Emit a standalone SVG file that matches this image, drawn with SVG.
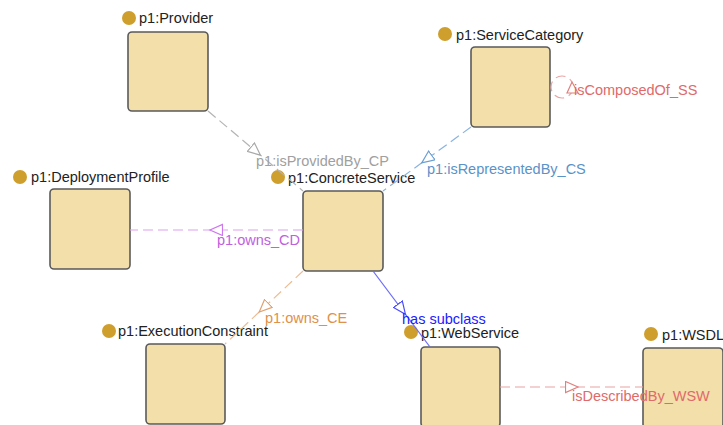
<svg xmlns="http://www.w3.org/2000/svg" width="723" height="425" viewBox="0 0 723 425">
<style>
.box{fill:#f3dfaa;stroke:#5a5a5a;stroke-width:1.6}
.dot{fill:#cf9f2e}
.lbl{font-family:"Liberation Sans",Arial,sans-serif;font-size:14.5px;fill:#222}
.el{font-family:"Liberation Sans",Arial,sans-serif;font-size:14.5px}
.dash{fill:none;stroke-width:1.2;stroke-dasharray:10 5}
</style>
<defs>
<marker id="mGrey" markerUnits="userSpaceOnUse" markerWidth="16" markerHeight="14" refX="6.5" refY="6" orient="auto"><path d="M0.5,0.5 L13,6 L0.5,11.5 z" fill="#fff" stroke="#a8a8a8" stroke-width="1.2"/></marker>
<marker id="mBlue" markerUnits="userSpaceOnUse" markerWidth="16" markerHeight="14" refX="6.5" refY="6" orient="auto"><path d="M0.5,0.5 L13,6 L0.5,11.5 z" fill="#fff" stroke="#6a9fd4" stroke-width="1.2"/></marker>
<marker id="mViolet" markerUnits="userSpaceOnUse" markerWidth="16" markerHeight="14" refX="6.5" refY="6" orient="auto"><path d="M0.5,0.5 L13,6 L0.5,11.5 z" fill="#fff" stroke="#cc77ee" stroke-width="1.2"/></marker>
<marker id="mOrange" markerUnits="userSpaceOnUse" markerWidth="16" markerHeight="14" refX="6.5" refY="6" orient="auto"><path d="M0.5,0.5 L13,6 L0.5,11.5 z" fill="#fff" stroke="#e0a070" stroke-width="1.2"/></marker>
<marker id="mSub" markerUnits="userSpaceOnUse" markerWidth="16" markerHeight="14" refX="6.5" refY="6" orient="auto"><path d="M0.5,0.5 L13,6 L0.5,11.5 z" fill="#fff" stroke="#4a4aff" stroke-width="1.2"/></marker>
<marker id="mRed" markerUnits="userSpaceOnUse" markerWidth="16" markerHeight="14" refX="6.5" refY="6" orient="auto"><path d="M0.5,0.5 L13,6 L0.5,11.5 z" fill="#fff" stroke="#e08080" stroke-width="1.2"/></marker>
</defs>
<g id="nodes">
<g id="Provider"><rect class="box" x="128" y="32" width="80" height="79" rx="4"/><circle class="dot" cx="129" cy="18" r="7"/><text class="lbl" x="139" y="23">p1:Provider</text></g>
<g id="ServiceCategory"><rect class="box" x="471" y="47" width="79" height="80" rx="4"/><circle class="dot" cx="445" cy="34" r="7"/><text class="lbl" x="456" y="40">p1:ServiceCategory</text></g>
<g id="ConcreteService"><rect class="box" x="303" y="191" width="80" height="80" rx="4"/><circle class="dot" cx="278" cy="177" r="7"/><text class="lbl" x="288" y="183">p1:ConcreteService</text></g>
<g id="DeploymentProfile"><rect class="box" x="50" y="189" width="80" height="80" rx="4"/><circle class="dot" cx="20" cy="177" r="7"/><text class="lbl" x="31" y="182">p1:DeploymentProfile</text></g>
<g id="ExecutionConstraint"><rect class="box" x="146" y="344" width="79" height="80" rx="4"/><circle class="dot" cx="109" cy="331" r="7"/><text class="lbl" x="118" y="336">p1:ExecutionConstraint</text></g>
<g id="WebService"><rect class="box" x="421" y="347" width="79" height="80" rx="4"/><circle class="dot" cx="411" cy="332" r="7"/><text class="lbl" x="421" y="338">p1:WebService</text></g>
<g id="WSDL"><rect class="box" x="643" y="348" width="80" height="80" rx="4"/><circle class="dot" cx="651" cy="334" r="7"/><text class="lbl" x="662" y="340">p1:WSDL</text></g>
</g>
<g id="connectors">
<polyline class="dash" stroke="#b4b4b4" points="208,111 255.5,151 303,191" marker-mid="url(#mGrey)"/>
<text class="el" x="256" y="166" fill="#a0a0a0">p1:isProvidedBy_CP</text>
<polyline class="dash" stroke="#8ab4e0" points="471,127 427,159 383,191" marker-mid="url(#mBlue)"/>
<text class="el" x="427" y="174" fill="#5b92c8">p1:isRepresentedBy_CS</text>
<polyline class="dash" stroke="#dca0f2" points="303,230 216.5,230 130,230" marker-mid="url(#mViolet)"/>
<text class="el" x="217" y="245" fill="#c060e0">p1:owns_CD</text>
<polyline class="dash" stroke="#ecbc94" points="303,271 264,307.5 225,344" marker-mid="url(#mOrange)"/>
<text class="el" x="265" y="323" fill="#e0904a">p1:owns_CE</text>
<polyline fill="none" stroke="#6a6aff" stroke-width="1.2" points="373,271 401.5,309 430,347" marker-mid="url(#mSub)"/>
<text class="el" x="402" y="324" fill="#2020ff">has subclass</text>
<polyline class="dash" stroke="#eaa4a4" points="500,387 571.5,387 643,387" marker-mid="url(#mRed)"/>
<text class="el" x="572" y="401" fill="#e06a6a">isDescribedBy_WSW</text>
<circle cx="562" cy="87" r="11" fill="none" stroke="#eaa4a4" stroke-width="1.2" stroke-dasharray="10 5"/>
<polygon points="567,93 578,93 572,82" fill="#fff" stroke="#e08080" stroke-width="1.2"/>
<text class="el" x="574" y="95" fill="#e06a6a">isComposedOf_SS</text>
</g>
</svg>
